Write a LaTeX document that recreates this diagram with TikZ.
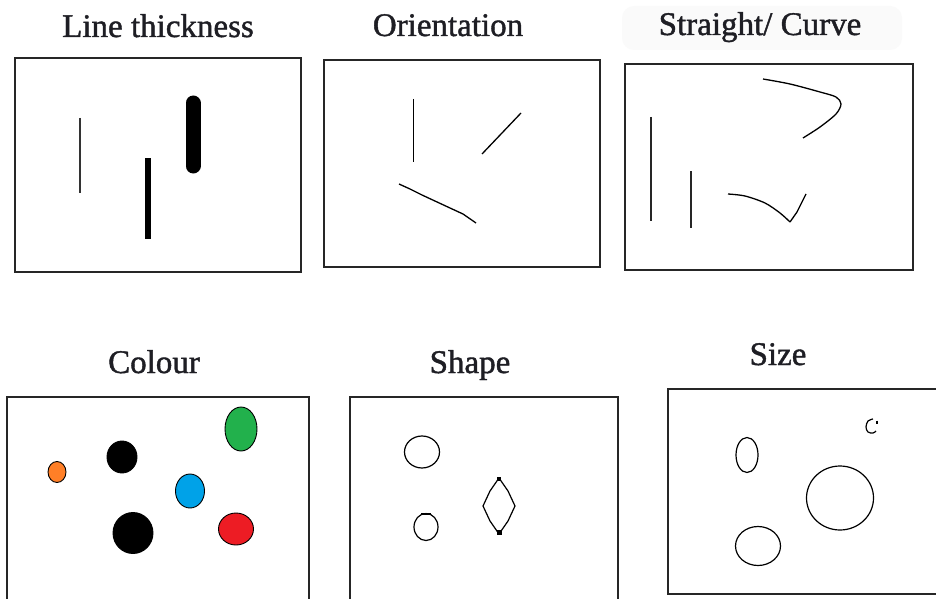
\documentclass[tikz,border=0pt]{standalone}
\usepackage{fontspec}
\setmainfont{Liberation Serif}
\definecolor{pOrange}{HTML}{FF7F27}
\definecolor{pGreen}{HTML}{22B14C}
\definecolor{pBlue}{HTML}{00A2E8}
\definecolor{pRed}{HTML}{ED1C24}
\definecolor{ink}{HTML}{1E1E24}
\tikzset{
  panel/.style={draw=black!85, line width=1.7pt},
  title/.style={anchor=base, font=\fontsize{33}{36}\selectfont\addfontfeature{FakeBold=1.2},
    text=ink, inner sep=0pt},
  stroke/.style={draw=black, line width=1.3pt},
  blob/.style={draw=black, line width=0.9pt},
  outline/.style={draw=black, line width=1.2pt, line join=round}
}
\begin{document}
\begin{tikzpicture}[x=1pt,y=-1pt]
\useasboundingbox (0,0) rectangle (936,599);
\clip (0,0) rectangle (936,599);
\fill[white] (0,0) rectangle (936,599);

% --- titles ---
\fill[black!2, rounded corners=12pt] (622,6) rectangle (902,50);
\node[title] (tThick) at (158,37) {Line thickness};
\node[title] (tOrient) at (448,36) {Orientation};
\node[title] (tStraight) at (760,35) {Straight/ Curve};
\node[title] (tColour) at (154,373) {Colour};
\node[title] (tShape) at (470,373) {Shape};
\node[title] (tSize) at (778,365) {Size};

% --- panels ---
\draw[panel] (15,58) rectangle (301,272);
\draw[panel] (324,60) rectangle (600,267);
\draw[panel] (625,64) rectangle (913,270);
\draw[panel] (7,397) rectangle (309,620);
\draw[panel] (350,397) rectangle (618,620);
\draw[panel] (668,389) rectangle (950,594);

% --- line thickness ---
\draw[black!80, line width=1.4pt] (80,118) -- (80,193);
\draw[black, line width=5.5pt] (148,158) -- (148,239);
\draw[black, line width=15pt, line cap=round] (193,103) -- (193,166);

% --- orientation ---
\draw[stroke] (413.7,99) -- (413.7,162);
\draw[stroke] (482,154) -- (521,113);
\draw[stroke, line join=round] (399,184) -- (410,189) -- (422,195) -- (450,208) -- (463,214) -- (476,223);

% --- straight / curve ---
\draw[stroke, black!85] (651,117) -- (651,221);
\draw[stroke, black!85] (691,171) -- (691,228);
\draw[stroke] plot[smooth, tension=0.5] coordinates
  {(763,79) (790,84) (820,92) (836,97) (841,104) (836,114) (820,127) (803,138)};
\draw[stroke] plot[smooth, tension=0.5] coordinates
  {(728,194) (745,196) (765,203) (780,213) (790,222)};
\draw[stroke] (790,222) -- (797,212) -- (806,194);

% --- colour ---
\draw[blob, fill=pOrange] (57,472) ellipse [x radius=9, y radius=10.5];
\draw[blob, fill=black] (122,457) ellipse [x radius=15, y radius=16];
\draw[blob, fill=pGreen] (241,429) ellipse [x radius=16, y radius=22];
\draw[blob, fill=pBlue] (190,491) ellipse [x radius=14.5, y radius=17];
\draw[blob, fill=black] (133,533) ellipse [x radius=20, y radius=20.5];
\draw[blob, fill=pRed] (236,529) ellipse [x radius=17.5, y radius=16];

% --- shape ---
\draw[outline] (422,452) ellipse [x radius=17.5, y radius=16];
\draw[outline] (426,527) ellipse [x radius=12, y radius=13.5];
\draw[black, line width=2.6pt] (421,514) -- (431,514);
\draw[outline] (499,478) -- (508,491) -- (515,506) -- (508,521) -- (499,534)
  -- (490,521) -- (483,506) -- (490,491) -- cycle;
\fill[black] (496.5,530) rectangle (501.5,535);
\fill[black] (497,477) rectangle (501,480.5);

% --- size ---
\draw[outline] (747,455) ellipse [x radius=11, y radius=17.5];
\draw[outline] (840,498) ellipse [x radius=33.5, y radius=32];
\draw[outline] (758,546) ellipse [x radius=22.5, y radius=19.5];
\draw[outline] plot[smooth, tension=0.6] coordinates {(873,419) (868,421) (866,427) (868,432) (873,433) (876,431)};
\draw[outline] (877,420.5) -- (877,424);
\end{tikzpicture}
\end{document}
